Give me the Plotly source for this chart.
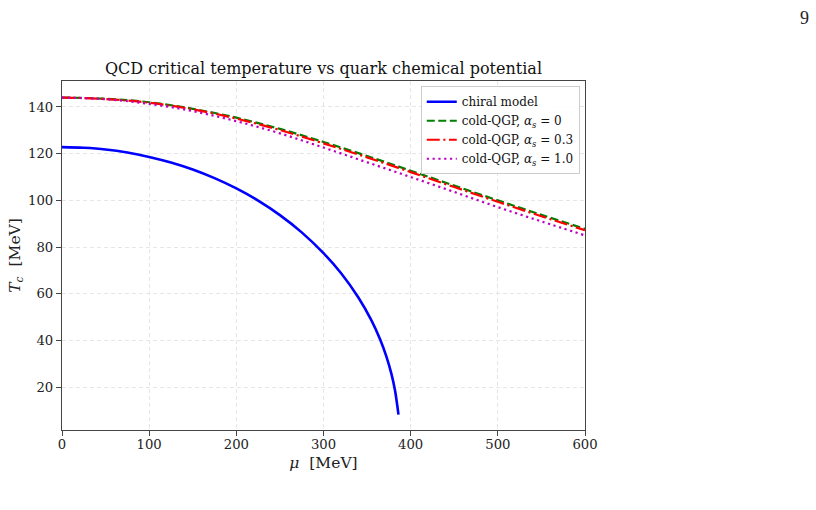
import plotly.graph_objects as go

# chiral model
mu_chiral = [0, 25, 50, 75, 100, 125, 150, 175, 200, 225, 250, 275, 300, 320, 340, 355, 365, 372, 378, 382, 384.5, 386]
T_chiral = [122.8, 122.5, 121.8, 120.5, 118.6, 116.2, 113.2, 109.5, 105.1, 99.9, 93.7, 86.3, 77.4, 68.9, 58.4, 48.6, 40.4, 33.3, 25.6, 18.7, 12.5, 8.3]

# cold-QGP curves
mu_qgp = [0, 50, 100, 150, 200, 250, 300, 350, 400, 450, 500, 550, 600]
T_qgp_a0 = [144.0, 143.5, 142.0, 139.2, 135.4, 130.6, 125.0, 119.0, 112.7, 106.3, 100.0, 93.8, 87.8]
T_qgp_a03 = [144.0, 143.4, 141.8, 139.0, 135.0, 130.1, 124.4, 118.4, 112.1, 105.7, 99.4, 93.2, 87.2]
T_qgp_a10 = [144.0, 143.3, 141.3, 138.2, 133.9, 128.7, 122.6, 116.3, 110.0, 103.6, 97.1, 91.0, 85.0]

x_ticks = [0, 100, 200, 300, 400, 500, 600]
y_ticks = [20, 40, 60, 80, 100, 120, 140]

FONT = "DejaVu Serif"

fig = go.Figure()
fig.add_trace(go.Scatter(x=mu_chiral, y=T_chiral, mode="lines", name="chiral model",
                         line=dict(color="#0000ff", width=2.6, shape="spline")))
fig.add_trace(go.Scatter(x=mu_qgp, y=T_qgp_a0, mode="lines",
                         name="cold-QGP, <i>α</i><sub><i>s</i></sub> = 0",
                         line=dict(color="#008000", width=2.2, dash="8px,3.5px", shape="spline")))
fig.add_trace(go.Scatter(x=mu_qgp, y=T_qgp_a03, mode="lines",
                         name="cold-QGP, <i>α</i><sub><i>s</i></sub> = 0.3",
                         line=dict(color="#ff0000", width=2.2, dash="13px,3.5px,2.2px,3.5px", shape="spline")))
fig.add_trace(go.Scatter(x=mu_qgp, y=T_qgp_a10, mode="lines",
                         name="cold-QGP, <i>α</i><sub><i>s</i></sub> = 1.0",
                         line=dict(color="#bf00bf", width=2.2, dash="2.2px,3.6px", shape="spline")))

axis_common = dict(
    showline=True, mirror=True, linecolor="#444", linewidth=1.2,
    ticks="outside", ticklen=5, tickcolor="#444", tickwidth=1,
    showgrid=True, gridcolor="#e6e6e6", griddash="4px,3px", gridwidth=1,
    zeroline=False, automargin=False,
    tickfont=dict(family=FONT, size=13.2, color="#222"),
)

fig.update_layout(
    width=816, height=510,
    margin=dict(l=62, r=231, t=81, b=80),
    paper_bgcolor="white", plot_bgcolor="white",
    font=dict(family=FONT, color="#222"),
    title=dict(text="QCD critical temperature vs quark chemical potential",
               x=0.5, xref="paper", xanchor="center",
               y=1 - 68 / 510, yref="container", yanchor="middle",
               font=dict(family=FONT, size=16, color="#111")),
    xaxis=dict(range=[0, 600], tickvals=x_ticks, ticklabelstandoff=-3,
               title=dict(text="<i>μ</i>  [MeV]", font=dict(family=FONT, size=15.5), standoff=6),
               **axis_common),
    yaxis=dict(range=[1.7, 151.1], tickvals=y_ticks,
               title=dict(text="<i>T</i><sub><i>c</i></sub>  [MeV]", font=dict(family=FONT, size=15.5), standoff=3),
               **axis_common),
    legend=dict(x=0.99, y=0.985, xanchor="right", yanchor="top",
                bgcolor="rgba(255,255,255,0.85)", bordercolor="#cccccc", borderwidth=1,
                font=dict(family=FONT, size=12, color="#111"),
                tracegroupgap=0, itemwidth=30),
    showlegend=True,
)

fig.add_annotation(text="9", xref="paper", yref="paper", x=(804 - 62) / 523, y=(430 - 18) / 349.3,
                   showarrow=False, font=dict(family="Liberation Serif", size=18, color="#222"),
                   xanchor="center", yanchor="middle")

fig.write_html("out.html")
